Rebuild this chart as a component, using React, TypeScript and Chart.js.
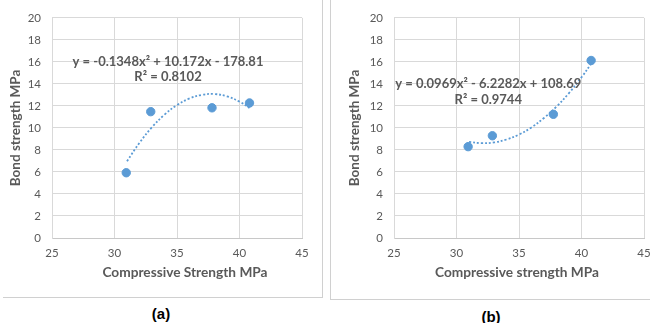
import React, { useEffect, useRef } from "react";
import { Chart, registerables } from "chart.js";

Chart.register(...registerables);

// ---- shared axes ----
const xTicks = [25, 30, 35, 40, 45];
const yTicks = [0, 2, 4, 6, 8, 10, 12, 14, 16, 18, 20];

// ---- panel (a) ----
const compA = [30.94, 32.9, 37.8, 40.8];
const bondA = [5.93, 11.48, 11.83, 12.27];
const trendXA = [31, 32, 33, 34, 35, 36, 37, 38, 39, 40, 40.8];
const trendYA = [6.98, 8.65, 10.07, 11.21, 12.08, 12.68, 13.01, 13.08, 12.87, 12.39, 11.82];
const equationA = ["y = -0.1348x\u00B2 + 10.172x - 178.81", "R\u00B2 = 0.8102"];
const xTitleA = "Compressive Strength MPa";
const captionA = "(a)";

// ---- panel (b) ----
const compB = [30.93, 32.87, 37.75, 40.77];
const bondB = [8.3, 9.29, 11.24, 16.13];
const trendXB = [31, 32, 33, 34, 35, 36, 37, 38, 39, 40, 40.8];
const trendYB = [8.74, 8.62, 8.68, 8.95, 9.4, 10.05, 10.91, 11.94, 13.17, 14.6, 15.88];
const equationB = ["y = 0.0969x\u00B2 - 6.2282x + 108.69", "R\u00B2 = 0.9744"];
const xTitleB = "Compressive strength MPa";
const captionB = "(b)";

const yTitle = "Bond strength MPa";

const BLUE = "#5b9bd5";
const GREY_TEXT = "#595959";
const GRID = "#d9d9d9";
const FONT = "Lato, 'Open Sans', sans-serif";

const textPlugin = {
  id: "panelText",
  afterDraw(chart: any, _args: any, opts: any) {
    const ctx = chart.ctx;
    const xs = chart.scales.x;
    const ys = chart.scales.y;
    const ca = chart.chartArea;
    ctx.save();
    ctx.fillStyle = GREY_TEXT;
    ctx.textAlign = "center";
    ctx.textBaseline = "middle";
    ctx.font = `bold ${opts.eqSize}px ${FONT}`;
    opts.lines.forEach((t: string, i: number) => {
      ctx.fillText(t, xs.getPixelForValue(opts.ex), ys.getPixelForValue(opts.ey[i]));
    });
    ctx.font = `bold ${opts.titleSize}px ${FONT}`;
    ctx.fillText(opts.xTitle, (ca.left + ca.right) / 2 + opts.xTitleDx, opts.xTitleY);
    ctx.restore();
  },
};

type PanelProps = {
  xs: number[];
  ys: number[];
  txs: number[];
  tys: number[];
  lines: string[];
  ex: number;
  ey: number[];
  xTitle: string;
  xTitleDx: number;
  width: number;
  height: number;
  left: number;
  yAxisWidth: number;
  padRight: number;
  yTitlePad: number;
};

function Panel(p: PanelProps) {
  const ref = useRef<HTMLCanvasElement | null>(null);
  useEffect(() => {
    if (!ref.current) return;
    const chart = new Chart(ref.current, {
      type: "scatter",
      data: {
        datasets: [
          {
            type: "scatter",
            data: p.xs.map((x, i) => ({ x, y: p.ys[i] })),
            backgroundColor: BLUE,
            borderColor: BLUE,
            pointRadius: 4.2,
            pointHoverRadius: 4.2,
            order: 0,
          } as any,
          {
            type: "line",
            data: p.txs.map((x, i) => ({ x, y: p.tys[i] })),
            borderColor: BLUE,
            borderWidth: 1.8,
            borderDash: [2, 2],
            pointRadius: 0,
            fill: false,
            tension: 0.4,
            order: 1,
          } as any,
        ],
      },
      options: {
        responsive: false,
        animation: false,
        devicePixelRatio: 1,
        layout: { padding: { left: 0, top: 12, right: p.padRight, bottom: 0 } },
        plugins: {
          legend: { display: false },
          tooltip: { enabled: false },
          panelText: {
            lines: p.lines,
            ex: p.ex,
            ey: p.ey,
            eqSize: 13,
            titleSize: 13.7,
            xTitle: p.xTitle,
            xTitleDx: p.xTitleDx,
            xTitleY: 273,
          },
        } as any,
        scales: {
          x: {
            type: "linear",
            min: 25,
            max: 45,
            afterBuildTicks: (s: any) => {
              s.ticks = xTicks.map((v) => ({ value: v }));
            },
            afterFit: (s: any) => {
              s.height = p.height - 238;
            },
            ticks: {
              color: GREY_TEXT,
              font: { family: FONT, size: 11.5 },
              padding: 8,
              maxRotation: 0,
            },
            grid: { color: GRID, drawTicks: false, lineWidth: 1 },
            border: { color: "#c8c8c8" },
          },
          y: {
            type: "linear",
            min: 0,
            max: 20,
            afterBuildTicks: (s: any) => {
              s.ticks = yTicks.map((v) => ({ value: v }));
            },
            afterFit: (s: any) => {
              s.width = p.yAxisWidth;
            },
            ticks: {
              color: GREY_TEXT,
              font: { family: FONT, size: 11.5 },
              padding: 11,
            },
            grid: { color: GRID, drawTicks: false, lineWidth: 1 },
            border: { color: GRID },
            title: {
              display: true,
              text: yTitle,
              color: GREY_TEXT,
              font: { family: FONT, size: 13.5, weight: "bold" },
              padding: { top: p.yTitlePad, bottom: 0 },
            },
          },
        },
      },
      plugins: [textPlugin as any],
    });
    return () => chart.destroy();
  }, []);
  return (
    <canvas
      ref={ref}
      width={p.width}
      height={p.height}
      style={{ position: "absolute", left: p.left, top: 0, width: p.width, height: p.height }}
    />
  );
}

const captionStyle: React.CSSProperties = {
  position: "absolute",
  width: 60,
  textAlign: "center",
  fontFamily: "'Liberation Sans', Arial, sans-serif",
  fontWeight: "bold",
  fontSize: 15,
  lineHeight: "17px",
  color: "#000",
};

export default function App() {
  return (
    <div
      style={{
        position: "absolute",
        left: 0,
        top: 0,
        width: 650,
        height: 323,
        overflow: "hidden",
        background: "#fff",
      }}
    >
      <Panel
        xs={compA}
        ys={bondA}
        txs={trendXA}
        tys={trendYA}
        lines={equationA}
        ex={34.28}
        ey={[16.04, 14.63]}
        xTitle={xTitleA}
        xTitleDx={8}
        width={323}
        height={297}
        left={0}
        yAxisWidth={52}
        padRight={21}
        yTitlePad={8}
      />
      <Panel
        xs={compB}
        ys={bondB}
        txs={trendXB}
        tys={trendYB}
        lines={equationB}
        ex={32.54}
        ey={[13.98, 12.57]}
        xTitle={xTitleB}
        xTitleDx={-2}
        width={330}
        height={297}
        left={331}
        yAxisWidth={63}
        padRight={17}
        yTitlePad={16}
      />
      {/* panel frames */}
      <div style={{ position: "absolute", left: 322, top: 0, width: 1, height: 298, background: "#d0d0d0" }} />
      <div style={{ position: "absolute", left: 3, top: 297, width: 320, height: 1, background: "#d0d0d0" }} />
      <div style={{ position: "absolute", left: 330, top: 0, width: 1, height: 300, background: "#d0d0d0" }} />
      <div style={{ position: "absolute", left: 330, top: 299, width: 320, height: 1, background: "#d0d0d0" }} />
      <div style={{ ...captionStyle, left: 131, top: 305 }}>{captionA}</div>
      <div style={{ ...captionStyle, left: 461, top: 308 }}>{captionB}</div>
    </div>
  );
}
